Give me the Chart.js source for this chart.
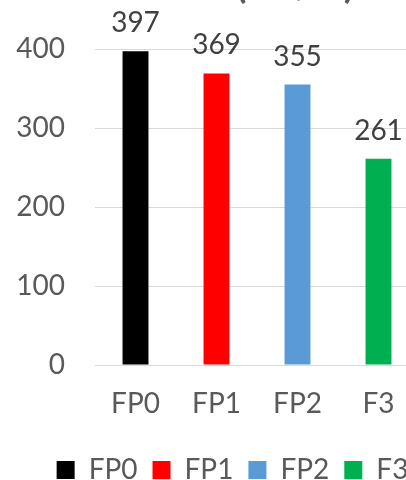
<!DOCTYPE html>
<html>
<head>
<meta charset="utf-8">
<script src="https://cdn.jsdelivr.net/npm/chart.js@4/dist/chart.umd.min.js"></script>
<style>
  html, body { margin: 0; padding: 0; background: #fff; overflow: hidden; }
  #wrap { position: absolute; left: 0; top: 0; width: 430px; height: 494px; }
</style>
</head>
<body>
<div id="wrap"><canvas id="c"></canvas></div>
<script>
const categories = ['FP0', 'FP1', 'FP2', 'F3'];
const values = [397, 369, 355, 261];
const barColors = ['#000000', '#ff0000', '#5b9bd5', '#00b050'];
const yTicks = [0, 100, 200, 300, 400];
const titleText = '(kN/m)';

const FONT = 'Lato, "Open Sans", sans-serif';

// value labels above each bar
const valueLabels = {
  id: 'valueLabels',
  afterDatasetsDraw(chart) {
    const ctx = chart.ctx;
    const meta = chart.getDatasetMeta(0);
    ctx.save();
    ctx.font = '28px ' + FONT;
    ctx.fillStyle = '#404040';
    ctx.textAlign = 'center';
    ctx.textBaseline = 'alphabetic';
    meta.data.forEach((bar, i) => {
      ctx.fillText(String(values[i]), bar.x, bar.y - 19);
    });
    ctx.restore();
  }
};

// chart title sitting above the plot
const topTitle = {
  id: 'topTitle',
  afterDraw(chart) {
    const ctx = chart.ctx;
    ctx.save();
    ctx.font = 'bold 38px ' + FONT;
    ctx.fillStyle = '#595959';
    ctx.textAlign = 'left';
    ctx.textBaseline = 'alphabetic';
    ctx.fillText(titleText, 236, -2);
    ctx.restore();
  }
};

// nudge the legend row to the right of the canvas centre
const legendShift = {
  id: 'legendShift',
  afterLayout(chart) {
    if (chart.legend) {
      chart.legend.left += 23;
      chart.legend.right += 23;
    }
  }
};

new Chart(document.getElementById('c'), {
  type: 'bar',
  data: {
    labels: categories,
    datasets: [{
      data: values,
      backgroundColor: barColors,
      borderWidth: 0,
      barPercentage: 0.32,
      categoryPercentage: 1.0
    }]
  },
  options: {
    responsive: true,
    maintainAspectRatio: false,
    animation: false,
    layout: { padding: { top: 49, right: 11, left: 0, bottom: 0 } },
    plugins: {
      tooltip: { enabled: false },
      title: { display: false },
      legend: {
        display: true,
        position: 'bottom',
        labels: {
          boxWidth: 18,
          boxHeight: 18,
          padding: 15,
          color: '#595959',
          font: { family: FONT, size: 28 },
          generateLabels() {
            return categories.map((c, i) => ({
              text: c,
              fillStyle: barColors[i],
              strokeStyle: barColors[i],
              lineWidth: 0,
              hidden: false,
              index: i,
              fontColor: '#595959'
            }));
          }
        }
      }
    },
    scales: {
      x: {
        afterFit(scale) { scale.height = 76; },
        grid: { display: false, drawTicks: false },
        border: { display: false },
        ticks: {
          color: '#595959',
          font: { family: FONT, size: 28 },
          padding: 22,
          maxRotation: 0
        }
      },
      y: {
        min: 0,
        max: 400,
        afterBuildTicks(scale) { scale.ticks = yTicks.map(v => ({ value: v })); },
        afterFit(scale) { scale.width = 95; },
        grid: { color: '#d9d9d9', lineWidth: 1, drawTicks: false },
        border: { display: false },
        ticks: {
          color: '#595959',
          font: { family: FONT, size: 28 },
          padding: 30
        }
      }
    }
  },
  plugins: [valueLabels, topTitle, legendShift]
});
</script>
</body>
</html>
